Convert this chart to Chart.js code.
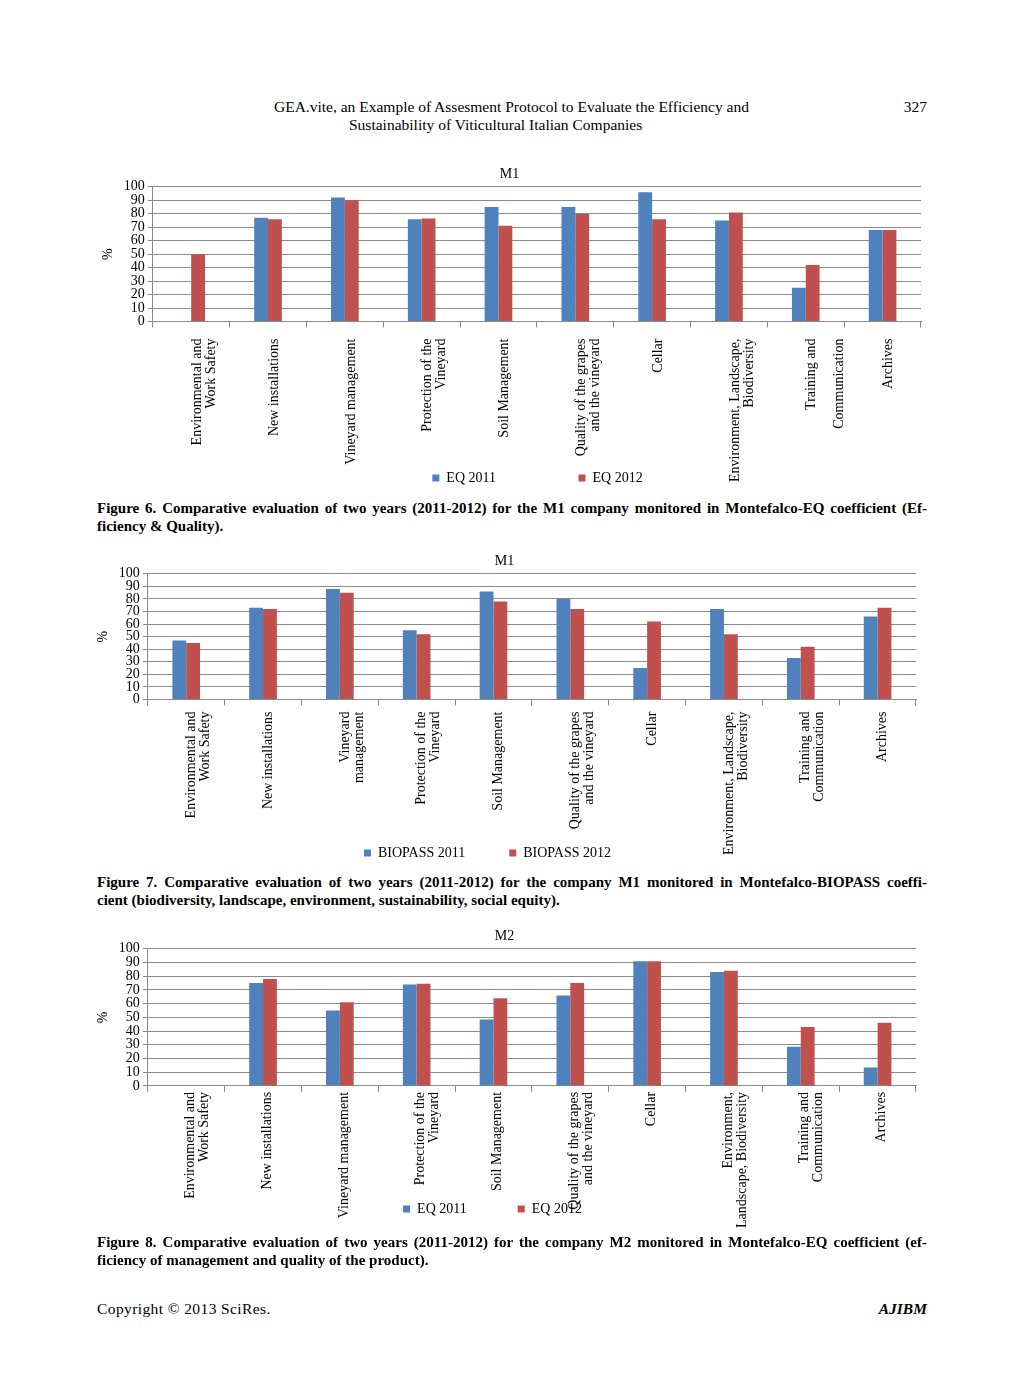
<!DOCTYPE html>
<html>
<head>
<meta charset="utf-8">
<script src="https://cdn.jsdelivr.net/npm/chart.js@4.4.1/dist/chart.umd.min.js"></script>
<style>
  body { margin: 0; background: #fff; color: #000; font-family: "Liberation Serif", "Times New Roman", serif; }
  #page { position: relative; width: 1024px; height: 1391px; overflow: hidden; }
  .t { position: absolute; font-size: 15.5px; line-height: 18px; white-space: nowrap; }
  .cap { position: absolute; left: 97px; width: 830px; font-size: 15px; line-height: 18px; font-weight: bold; }
  .cap .j { text-align: justify; text-align-last: justify; }
  canvas { position: absolute; }
</style>
</head>
<body>
<div id="page">
  <div class="t" style="left:274px; top:98px;">GEA.vite, an Example of Assesment Protocol to Evaluate the Efficiency and</div>
  <div class="t" style="left:349px; top:116px;">Sustainability of Viticultural Italian Companies</div>
  <div class="t" style="right:97px; top:98px;">327</div>

  <canvas id="c1" width="835" height="333" style="left:98px; top:162px;"></canvas>
  <div class="cap" style="top:499px;">
    <div class="j">Figure 6. Comparative evaluation of two years (2011-2012) for the M1 company monitored in Montefalco-EQ coefficient (Ef-</div>
    <div>ficiency &amp; Quality).</div>
  </div>

  <canvas id="c2" width="835" height="321" style="left:93px; top:549px;"></canvas>
  <div class="cap" style="top:873px;">
    <div class="j">Figure 7. Comparative evaluation of two years (2011-2012) for the company M1 monitored in Montefalco-BIOPASS coeffi-</div>
    <div>cient (biodiversity, landscape, environment, sustainability, social equity).</div>
  </div>

  <canvas id="c3" width="835" height="327" style="left:93px; top:924px;"></canvas>
  <div class="cap" style="top:1233px;">
    <div class="j">Figure 8. Comparative evaluation of two years (2011-2012) for the company M2 monitored in Montefalco-EQ coefficient (ef-</div>
    <div>ficiency of management and quality of the product).</div>
  </div>

  <div class="t" style="left:97px; top:1300px; letter-spacing:0.4px;">Copyright © 2013 SciRes.</div>
  <div class="t" style="right:97px; top:1300px; font-weight:bold; font-style:italic;">AJIBM</div>
</div>

<script>
// categories
var labelsFig6 = [["Environmental and", "Work Safety"], "New installations", "Vineyard management",
  ["Protection of the", "Vineyard"], "Soil Management", ["Quality of the grapes", "and the vineyard"],
  "Cellar", ["Environment, Landscape,", "Biodiversity"], ["Training and", "", "Communication"], "Archives"];
var labelsFig7 = [["Environmental and", "Work Safety"], "New installations", ["Vineyard", "management"],
  ["Protection of the", "Vineyard"], "Soil Management", ["Quality of the grapes", "and the vineyard"],
  "Cellar", ["Environment, Landscape,", "Biodiversity"], ["Training and", "Communication"], "Archives"];
var labelsFig8 = [["Environmental and", "Work Safety"], "New installations", "Vineyard management",
  ["Protection of the", "Vineyard"], "Soil Management", ["Quality of the grapes", "and the vineyard"],
  "Cellar", ["Environment,", "Landscape, Biodiversity"], ["Training and", "Communication"], "Archives"];

// values (%)
var eq2011M1 = [null, 77, 92, 76, 85, 85, 96, 75, 25, 68];
var eq2012M1 = [50, 76, 90, 76.5, 71, 80, 76, 81, 42, 68];
var biopass2011M1 = [47, 73, 88, 55, 86, 80, 25, 72, 33, 66];
var biopass2012M1 = [45, 72, 85, 52, 78, 72, 62, 52, 42, 73];
var eq2011M2 = [null, 75, 55, 74, 48.5, 66, 91, 83, 28.5, 13.5];
var eq2012M2 = [null, 78, 61, 74.5, 64, 75, 91, 84, 43, 46];

var yTicks = [0, 10, 20, 30, 40, 50, 60, 70, 80, 90, 100];

var BLUE = "#4f81bd";
var RED = "#c0504d";
var GRID = "#8a8a8a";

Chart.defaults.font.family = '"Liberation Serif", "Times New Roman", serif';
Chart.defaults.color = "#000";

// category labels may run into the legend band (as in the original), and the legend sits off-centre
var layoutTweak = {
  id: "layoutTweak",
  afterLayout: function (chart, args, o) {
    if (o.dx) { chart.legend.left += o.dx; chart.legend.right += o.dx; }
    if (o.overflow) { chart.scales.x.bottom += o.overflow; }
  }
};

function barChart(id, title, labels, names, first, second, opt) {
  var gap = new Array(opt.gap + 1).join(" ");
  return new Chart(document.getElementById(id), {
    type: "bar",
    plugins: [layoutTweak],
    data: {
      labels: labels,
      datasets: [
        { label: names[0], data: first, backgroundColor: BLUE, categoryPercentage: 0.36, barPercentage: 1 },
        { label: names[1], data: second, backgroundColor: RED, categoryPercentage: 0.36, barPercentage: 1 }
      ]
    },
    options: {
      responsive: false,
      animation: false,
      devicePixelRatio: 1,
      layout: { padding: { left: 0, right: 12, bottom: opt.bottom } },
      plugins: {
        title: { display: true, text: title, font: { size: 14, weight: "normal" }, padding: { top: 4, bottom: 4 } },
        tooltip: { enabled: false },
        layoutTweak: { dx: opt.dx, overflow: opt.shrink + 40 },
        legend: {
          position: "bottom",
          labels: {
            boxWidth: 7, boxHeight: 7, padding: 2, font: { size: 14 },
            generateLabels: function (chart) {
              var items = Chart.defaults.plugins.legend.labels.generateLabels(chart);
              items[0].text = items[0].text + gap;
              return items;
            }
          }
        }
      },
      scales: {
        x: {
          grid: { drawOnChartArea: false, offset: true, tickLength: 6, color: GRID },
          border: { color: GRID },
          ticks: { autoSkip: false, maxRotation: 90, minRotation: 90, padding: opt.pad, labelOffset: opt.lo,
                   font: { size: 14, lineHeight: 1.0 } },
          afterFit: function (scale) { scale.height -= opt.shrink; }
        },
        y: {
          min: 0, max: 100,
          afterBuildTicks: function (scale) { scale.ticks = yTicks.map(function (v) { return { value: v }; }); },
          grid: { color: GRID, tickLength: 5 },
          border: { color: GRID },
          ticks: { autoSkip: false, font: { size: 14, lineHeight: 1.0 }, padding: 3 },
          title: { display: true, text: "%", font: { size: 14 }, padding: { top: 2, bottom: 4 } }
        }
      }
    }
  });
}

barChart("c1", "M1", labelsFig6, ["EQ 2011", "EQ 2012"], eq2011M1, eq2012M1,
  { gap: 23, pad: 11, lo: 6, shrink: 19, bottom: 0, dx: 28 });
barChart("c2", "M1", labelsFig7, ["BIOPASS 2011", "BIOPASS 2012"], biopass2011M1, biopass2012M1,
  { gap: 12, pad: 6, lo: 5, shrink: 16, bottom: 0, dx: -17 });
barChart("c3", "M2", labelsFig8, ["EQ 2011", "EQ 2012"], eq2011M2, eq2012M2,
  { gap: 14, pad: 0, lo: 4, shrink: 28, bottom: 25, dx: -12 });
</script>
</body>
</html>
